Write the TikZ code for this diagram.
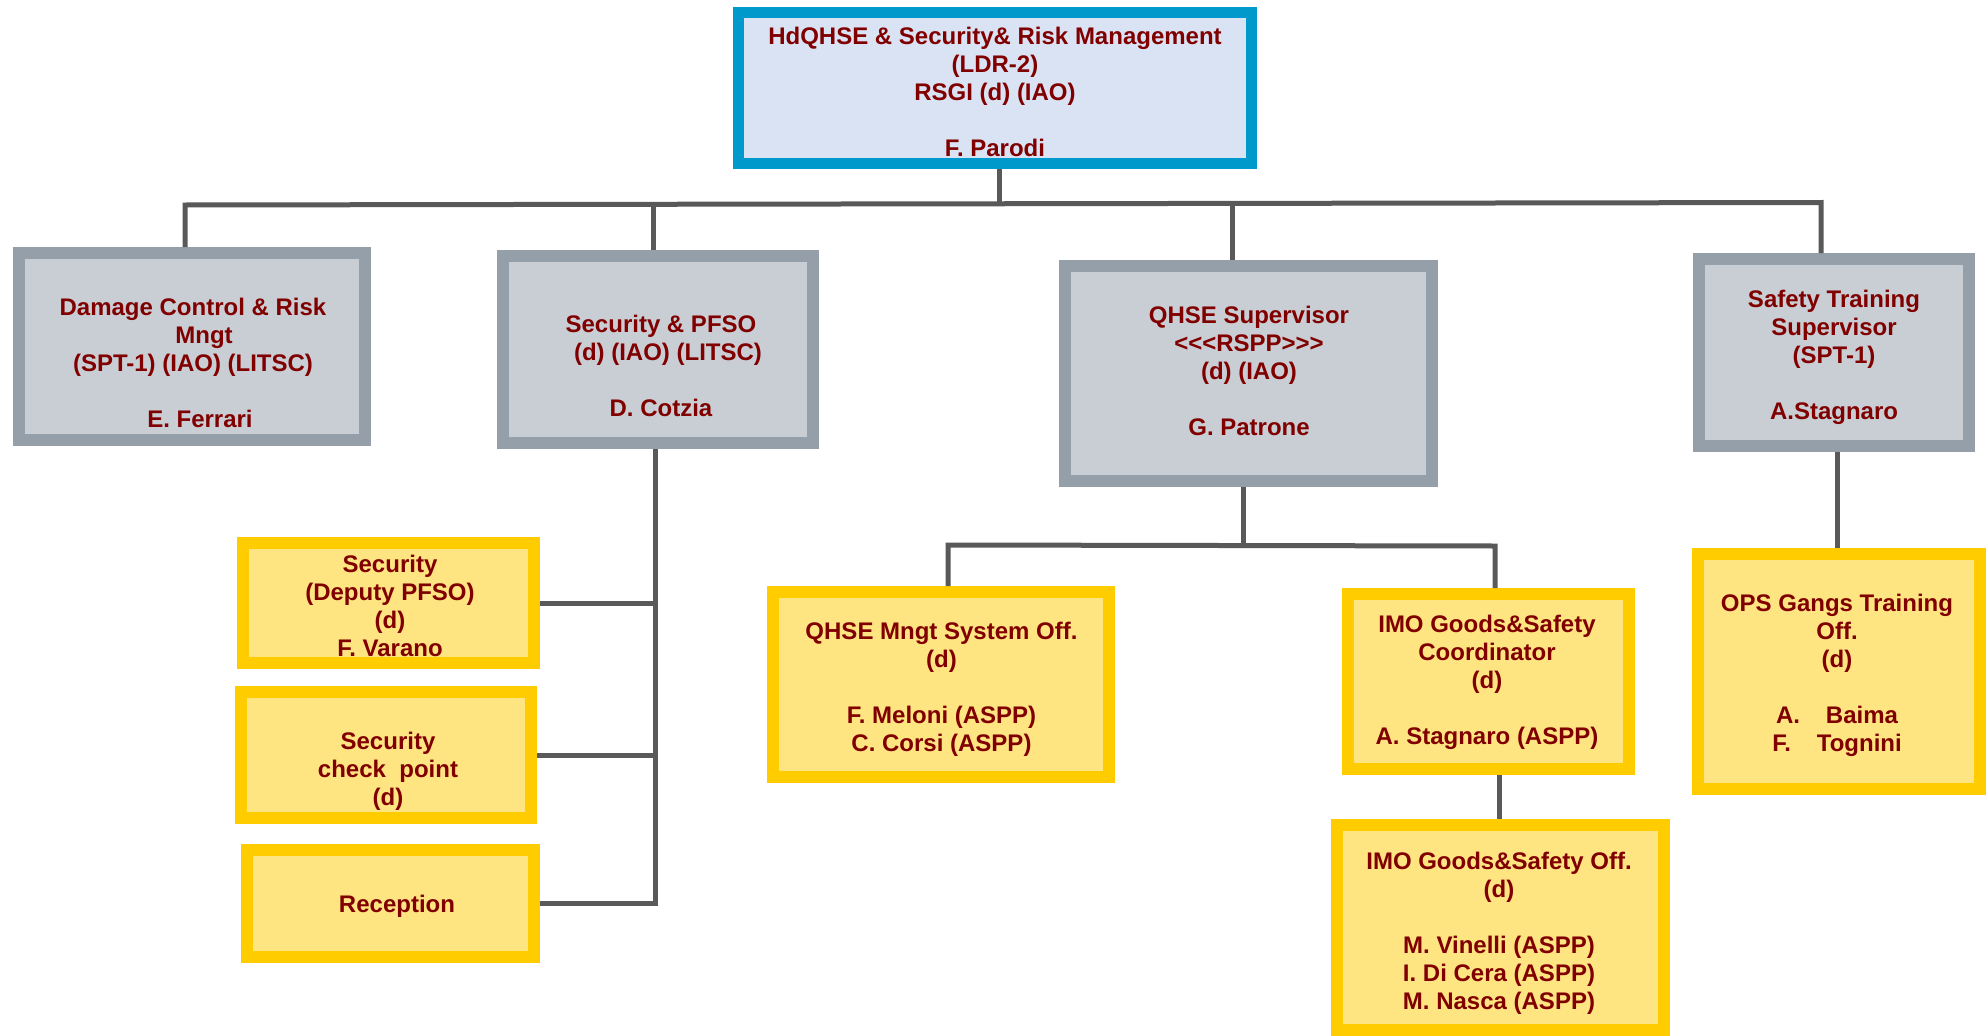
\documentclass[tikz,border=0pt]{standalone}
\usepackage{fontspec}
\setmainfont{Liberation Sans}
\definecolor{cyanB}{RGB}{0,153,204}
\definecolor{blueF}{RGB}{218,227,243}
\definecolor{grayB}{RGB}{149,159,169}
\definecolor{grayF}{RGB}{201,206,213}
\definecolor{yelB}{RGB}{255,204,0}
\definecolor{yelF}{RGB}{255,228,130}
\definecolor{txtC}{RGB}{128,0,0}
\definecolor{connC}{RGB}{89,89,89}
\begin{document}
\begin{tikzpicture}[x=1pt,y=-1pt,
  box/.style={rectangle, inner sep=0pt, line width=12pt, draw},
  topbox/.style={box, line width=11pt, draw=cyanB, fill=blueF},
  graybox/.style={box, draw=grayB, fill=grayF},
  yelbox/.style={box, draw=yelB, fill=yelF},
  txt/.style={text=txtC, font=\bfseries\fontsize{24}{28}\selectfont, align=center, inner sep=0pt},
  conn/.style={draw=connC, line width=5pt}]
\useasboundingbox (0,0) rectangle (1987,1036);

% boxes
\node[topbox, minimum width=513pt, minimum height=151pt] (top) at (995,88) {};
\node[graybox, minimum width=346pt, minimum height=187pt] (dc) at (192,346.5) {};
\node[graybox, minimum width=310pt, minimum height=187pt] (sp) at (658,349.5) {};
\node[graybox, minimum width=367pt, minimum height=215pt] (qs) at (1248.5,373.5) {};
\node[graybox, minimum width=270pt, minimum height=187pt] (st) at (1834,352.5) {};
\node[yelbox, minimum width=291pt, minimum height=120pt] (dp) at (388.5,603) {};
\node[yelbox, minimum width=290pt, minimum height=126pt] (cp) at (386,755) {};
\node[yelbox, minimum width=287pt, minimum height=107pt] (rc) at (390.5,903.5) {};
\node[yelbox, minimum width=336pt, minimum height=185pt] (qm) at (941,684.5) {};
\node[yelbox, minimum width=281pt, minimum height=175pt] (ic) at (1488.5,681.5) {};
\node[yelbox, minimum width=327pt, minimum height=205pt] (io) at (1500.5,927.5) {};
\node[yelbox, minimum width=282pt, minimum height=235pt] (ops) at (1839,671.5) {};

% texts
\node[txt] (topt) at (995,92) {HdQHSE \& Security\& Risk Management\\(LDR-2)\\RSGI (d) (IAO)\\[28pt]F. Parodi};
\node[txt] (dct) at (193,363) {Damage Control \& Risk\\\hspace*{22pt}Mngt\\(SPT-1) (IAO) (LITSC)\\[28pt]\hspace*{14pt}E. Ferrari};
\node[txt] (spt) at (661,366) {Security \& PFSO\\\hspace*{14pt}(d) (IAO) (LITSC)\\[28pt]D. Cotzia};
\node[txt] (qst) at (1249,371) {QHSE Supervisor\\<\kern0pt<\kern0pt<RSPP>\kern0pt>\kern0pt>\\(d) (IAO)\\[28pt]G. Patrone};
\node[txt] (stt) at (1834,357) {Safety Training\\Supervisor\\(SPT-1)\\[28pt]A.Stagnaro};
\node[txt] (dpt) at (390,606) {Security\\(Deputy PFSO)\\(d)\\F. Varano};
\node[txt] (cpt) at (388,771) {Security\\check\ \ point\\(d)};
\node[txt] (rct) at (397,906.5) {Reception};
\node[txt] (qmt) at (941.5,689) {QHSE Mngt System Off.\\(d)\\[28pt]F. Meloni (ASPP)\\C. Corsi (ASPP)};
\node[txt] (ict) at (1487,682) {IMO Goods\&Safety\\Coordinator\\(d)\\[28pt]A. Stagnaro (ASPP)};
\node[txt] (iot) at (1499,933) {IMO Goods\&Safety Off.\\(d)\\[28pt]M. Vinelli (ASPP)\\I. Di Cera (ASPP)\\M. Nasca (ASPP)};
\node[txt] (opst) at (1837,675.5) {OPS Gangs Training\\Off.\\(d)\\[28pt]A.\hspace{26pt}Baima\\F.\hspace{26pt}Tognini};

% connector coordinates
\coordinate (b0) at (999,204);
\coordinate (b1) at (185,205);
\coordinate (b2) at (653,204.5);
\coordinate (b3) at (1232,203.5);
\coordinate (b4) at (1821,202.5);
\coordinate (s0) at (655,600);
\coordinate (q0) at (1243,545);
\coordinate (q1) at (948,545);
\coordinate (q2) at (1495,546);
\coordinate (i0) at (1499,800);
\coordinate (t0) at (1837,500);

% connectors
\draw[conn] (top.south -| b0) -- (b0);
\draw[conn] (dc.north -| b1) -- (b1) -- (b4) -- (st.north -| b4);
\draw[conn] (b2) -- (sp.north -| b2);
\draw[conn] (b3) -- (qs.north -| b3);
\draw[conn] (sp.south -| s0) -- (rc.east -| s0) -- (rc.east);
\draw[conn] (dp.east) -- (dp.east -| s0);
\draw[conn] (cp.east) -- (cp.east -| s0);
\draw[conn] (qs.south -| q0) -- (q0);
\draw[conn] (qm.north -| q1) -- (q1) -- (q2) -- (ic.north -| q2);
\draw[conn] (ic.south -| i0) -- (io.north -| i0);
\draw[conn] (st.south -| t0) -- (ops.north -| t0);
\end{tikzpicture}
\end{document}
